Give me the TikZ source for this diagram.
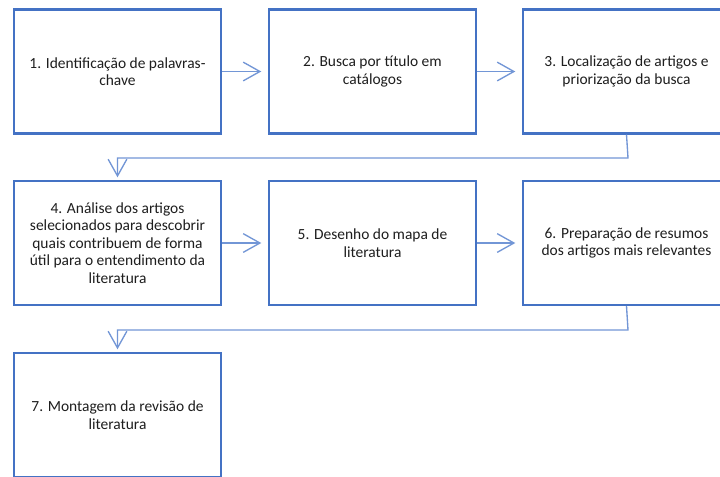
\documentclass[tikz,border=0pt]{standalone}
\usepackage{fontspec}
\setmainfont{Carlito}
\usetikzlibrary{arrows.meta}
\definecolor{boxblue}{RGB}{68,114,196}
\definecolor{linkblue}{RGB}{114,150,214}
\definecolor{txt}{RGB}{30,30,30}
\tikzset{
  stepbox/.style={draw=boxblue, line width=1.6pt, fill=white, minimum width=155.25pt, minimum height=93pt, inner sep=0pt, align=center, text=txt, font=\fontsize{11.6}{13.1}\selectfont},
  conn/.style={draw=linkblue, line width=1pt, -{Straight Barb[length=12.5pt,width=14pt,line width=1pt]}}
}
\begin{document}
\begin{tikzpicture}[x=0.75pt,y=-0.75pt]
\useasboundingbox (0,0) rectangle (720,476);
\clip (0,0) rectangle (720,476);
\fill[white] (0,0) rectangle (720,476);
\node[stepbox] (b1) at (117.5,71.5) {1. Identificação de palavras-\\chave};
\node[stepbox] (b2) at (372.5,71.5) {2. Busca por título em\\catálogos};
\node[stepbox] (b3) at (626.5,71.5) {3. Localização de artigos e\\priorização da busca};
\node[stepbox] (b4) at (117.5,243) {4. Análise dos artigos\\selecionados para descobrir\\quais contribuem de forma\\útil para o entendimento da\\literatura};
\node[stepbox] (b5) at (372.5,243) {5. Desenho do mapa de\\literatura};
\node[stepbox] (b6) at (626.5,243) {6. Preparação de resumos\\dos artigos mais relevantes};
\node[stepbox] (b7) at (117.5,415) {7. Montagem da revisão de\\literatura};
\coordinate (k1) at (628,158);
\coordinate (k2) at (628,330);
\draw[conn, shorten >=5pt] (b1.east) -- (b2.west);
\draw[conn, shorten >=5pt] (b2.east) -- (b3.west);
\draw[conn, shorten >=5pt] (b4.east) -- (b5.west);
\draw[conn, shorten >=5pt] (b5.east) -- (b6.west);
\draw[conn, shorten >=2pt] (b3.south) -- (k1) -| (b4.north);
\draw[conn, shorten >=2pt] (b6.south) -- (k2) -| (b7.north);
\end{tikzpicture}
\end{document}
